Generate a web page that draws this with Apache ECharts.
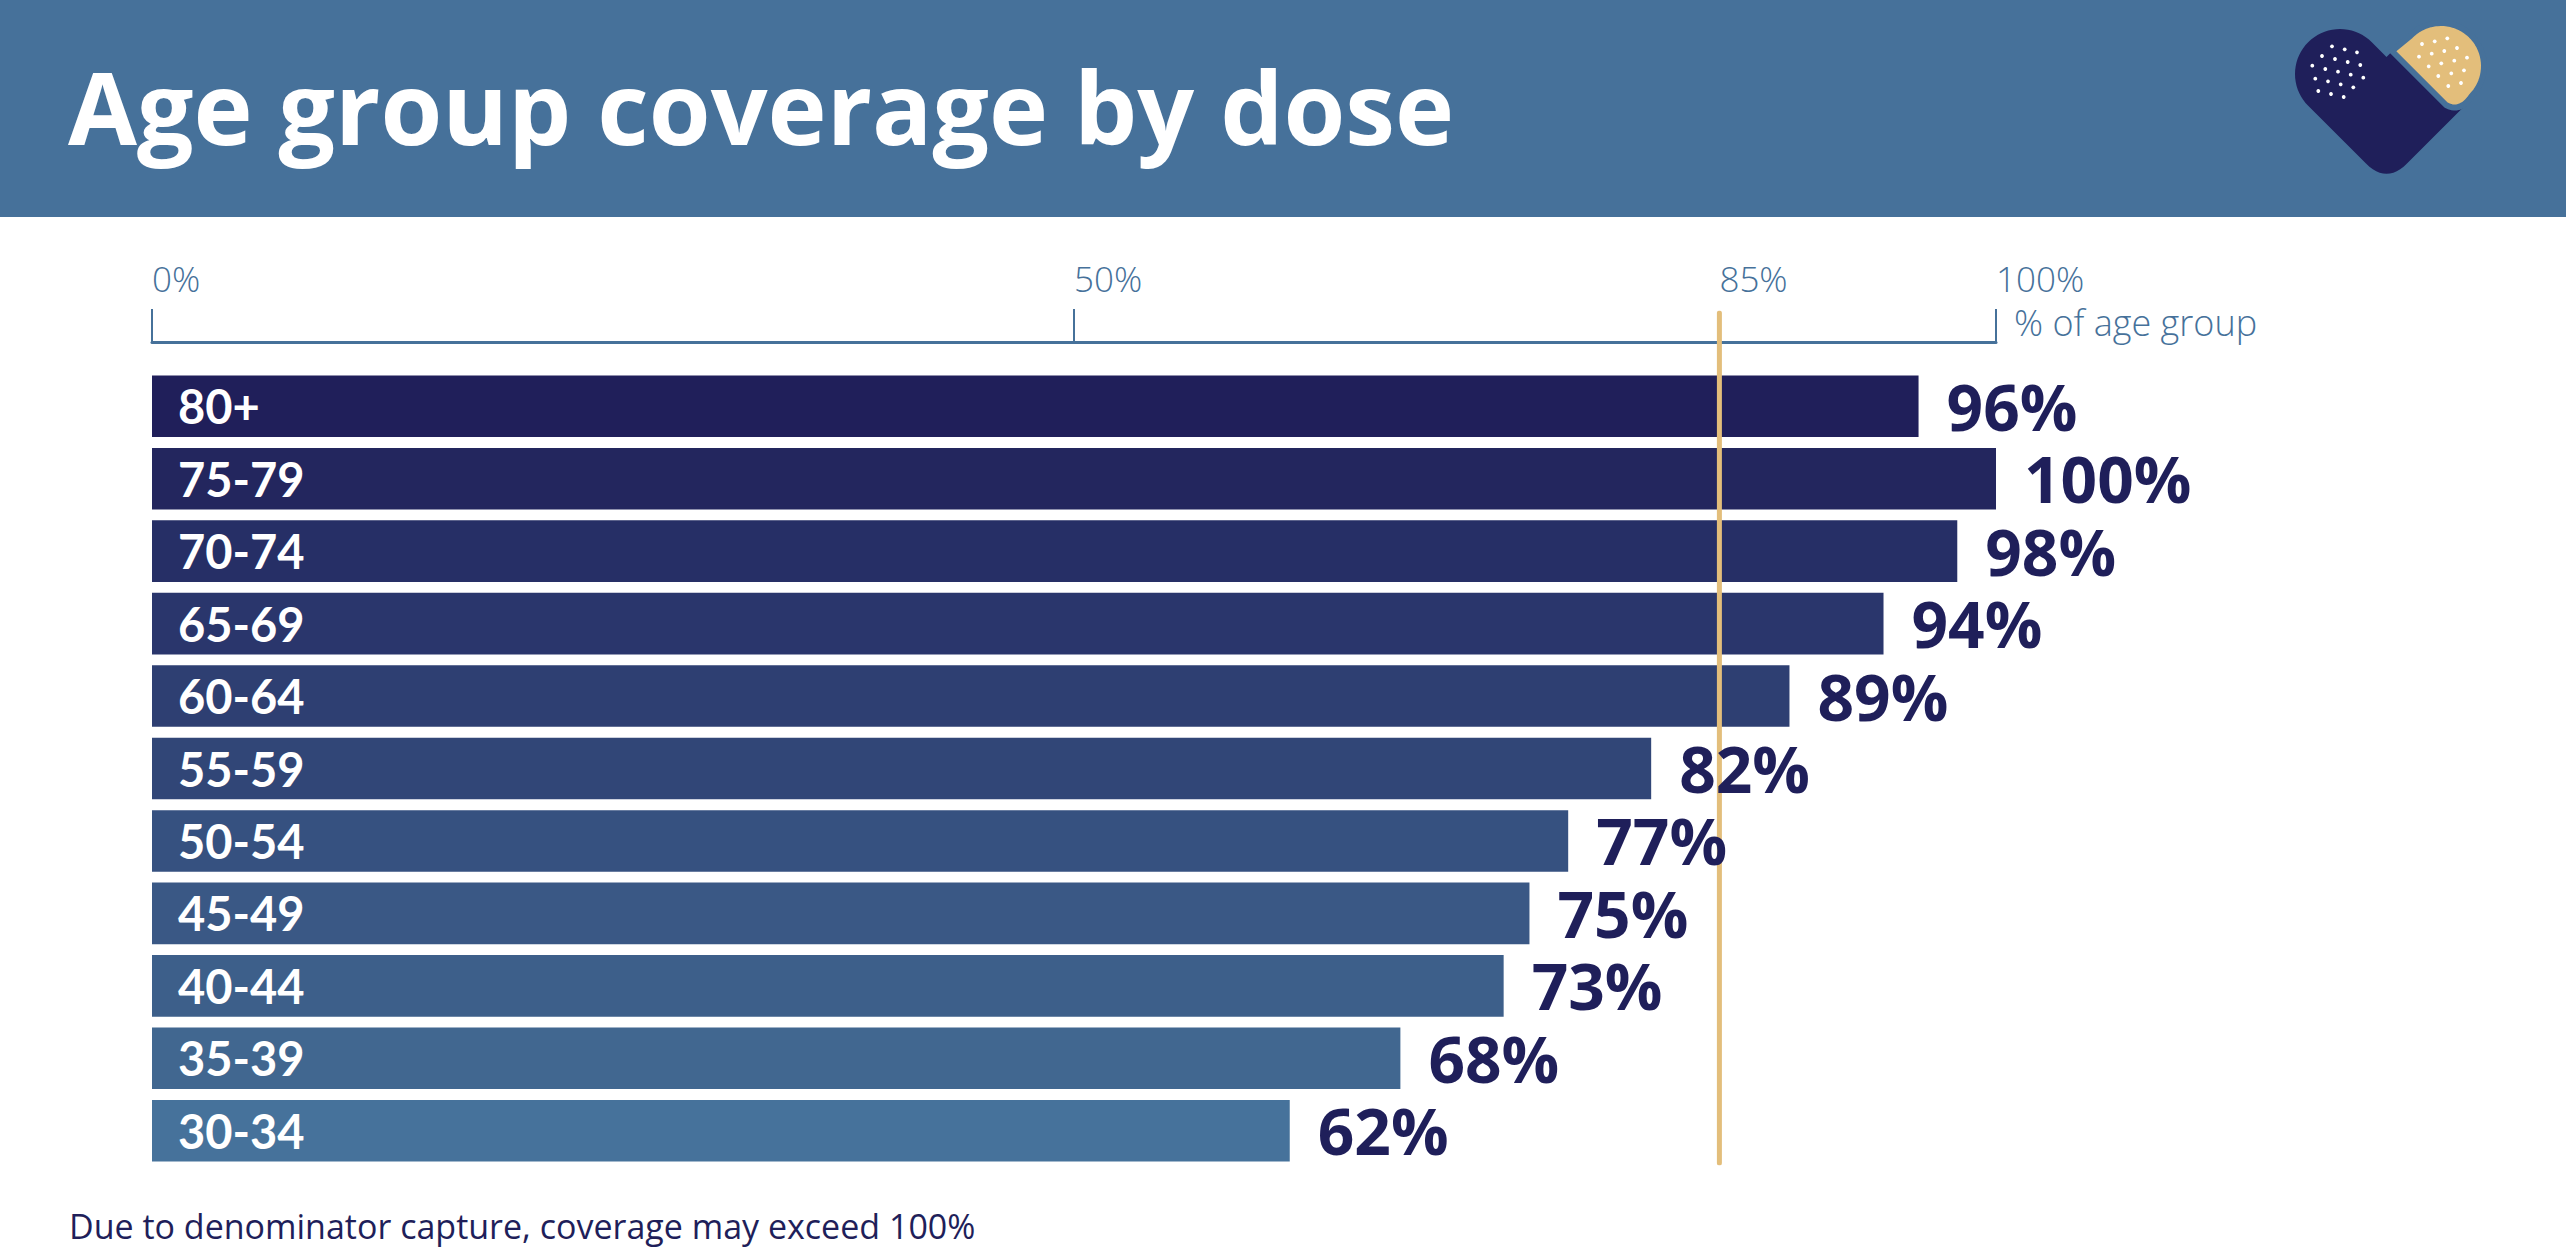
<!DOCTYPE html>
<html>
<head>
<meta charset="utf-8">
<script src="https://cdn.jsdelivr.net/npm/echarts@6/dist/echarts.min.js"></script>
<style>
  html, body { margin: 0; padding: 0; background: #ffffff; }
  #chart { width: 2572px; height: 1248px; }
</style>
</head>
<body>
<div id="chart"></div>
<script>
// ---- data ----
const categories = ['80+', '75-79', '70-74', '65-69', '60-64', '55-59', '50-54', '45-49', '40-44', '35-39', '30-34'];
const coverage = [95.8, 100, 97.9, 93.9, 88.8, 81.3, 76.8, 74.7, 73.3, 67.7, 61.7];
const coverageLabels = ['96%', '100%', '98%', '94%', '89%', '82%', '77%', '75%', '73%', '68%', '62%'];
const tickValues = [0, 50, 100];
const tickLabelValues = [0, 50, 85, 100];
const targetValue = 85;

// ---- styles ----
const barColors = ['#201F5A', '#23265E', '#262F66', '#2A366C', '#2E3F72', '#314677', '#365180', '#3A5885', '#3D5F8A', '#416790', '#46729B'];
const headerBlue = '#46719A';
const navy = '#1F1F5A';
const gold = '#E3BE7B';
const LATO = 'Lato, "Noto Sans", sans-serif';
const OPEN = '"Open Sans", "Noto Sans", sans-serif';

// ---- logo (decoration) ----
function arcPts(cx, cy, r, a0, a1, steps) {
  const out = [];
  for (let i = 0; i <= steps; i++) {
    const a = (a0 + (a1 - a0) * i / steps) * Math.PI / 180;
    out.push([cx + r * Math.cos(a), cy + r * Math.sin(a)]);
  }
  return out;
}
function quadPts(p0, c, p1, steps) {
  const out = [];
  for (let i = 0; i <= steps; i++) {
    const t = i / steps, u = 1 - t;
    out.push([u * u * p0[0] + 2 * u * t * c[0] + t * t * p1[0], u * u * p0[1] + 2 * u * t * c[1] + t * t * p1[1]]);
  }
  return out;
}
const navyShape = [].concat(
  arcPts(2340, 74, 45, -45, -225, 36),
  quadPts([2366, 163.6], [2386.5, 184.1], [2407, 163.6], 12),
  arcPts(2441, 66, 45, 45, -135, 36),
  [[2386.5, 56.9]]
);
const goldShape = [].concat(
  [[2392, 51]],
  arcPts(2441, 66, 43, -135, 44, 40),
  quadPts([2471.9, 95.9], [2460, 113], [2446, 105], 10)
);
const navyDots = [[2332,46.3],[2344.7,49.3],[2357,52.3],[2322,56],[2335,59],[2347.7,62],[2360.3,65],[2312.3,65.7],[2325.3,69],[2338,71.7],[2350.7,74.7],[2363.3,77.7],[2315.3,78.7],[2328,81.3],[2340.7,84.3],[2353.3,87.3],[2318.3,91],[2331,94],[2343.7,97]];
const goldDots = [[2422,44],[2434.7,41.3],[2447.3,38.3],[2419,56.7],[2431.7,53.7],[2444.3,51],[2457,48],[2428.7,66.3],[2441.3,63.3],[2454.3,60.7],[2467,57.7],[2438.3,76],[2451.3,73.3],[2464,70.3],[2448.3,86],[2461,83]];

const logo = [
  { type: 'polygon', z: 10, shape: { points: navyShape }, style: { fill: navy } },
  { type: 'polygon', z: 11, shape: { points: goldShape }, style: { fill: gold, stroke: headerBlue, lineWidth: 6, lineJoin: 'round' } }
];
navyDots.concat(goldDots).forEach(function (p) {
  logo.push({ type: 'circle', z: 12, shape: { cx: p[0], cy: p[1], r: 1.9 }, style: { fill: '#ffffff' } });
});

const chart = echarts.init(document.getElementById('chart'), null, { renderer: 'svg' });

chart.setOption({
  backgroundColor: '#ffffff',
  animation: false,
  graphic: [
    { type: 'rect', z: 0, shape: { x: 0, y: 0, width: 2566, height: 217 }, style: { fill: headerBlue } },
    { type: 'text', z: 5, x: 68, y: 106, style: { text: 'Age group coverage by dose', fill: '#ffffff', font: 'bold 100px ' + OPEN, verticalAlign: 'middle', align: 'left' } },
    { type: 'text', z: 5, x: 69, y: 1226, style: { text: 'Due to denominator capture, coverage may exceed 100%', fill: navy, font: '34px ' + OPEN, verticalAlign: 'middle', align: 'left' } }
  ].concat(logo),
  grid: [
    { left: 152, right: 576, top: 370, bottom: 81, containLabel: false },
    { left: 152, right: 576, top: 313, bottom: 85, containLabel: false }
  ],
  xAxis: [
    {
      type: 'value', gridIndex: 0, position: 'top', offset: 28, min: 0, max: 100,
      splitLine: { show: false },
      axisLine: { show: true, lineStyle: { color: headerBlue, width: 3 } },
      axisTick: { show: true, customValues: tickValues, length: 33, lineStyle: { color: headerBlue, width: 2 } },
      axisLabel: {
        customValues: tickLabelValues, formatter: '{value}%', align: 'left', verticalAlign: 'bottom',
        margin: 44, color: headerBlue, fontSize: 35, fontWeight: 300, fontFamily: OPEN, lineHeight: 40
      },
      name: '% of age group', nameLocation: 'end', nameGap: 18,
      nameTextStyle: { color: headerBlue, fontSize: 36, fontWeight: 300, fontFamily: OPEN, align: 'left', verticalAlign: 'bottom', lineHeight: 40 }
    },
    { type: 'value', gridIndex: 1, min: 0, max: 100, show: false }
  ],
  yAxis: [
    {
      type: 'category', gridIndex: 0, data: categories, inverse: true, z: 10,
      axisLine: { show: false }, axisTick: { show: false }, splitLine: { show: false },
      axisLabel: { inside: true, margin: 26, color: '#ffffff', fontSize: 47, fontWeight: 'bold', fontFamily: LATO, align: 'left', lineHeight: 52 }
    },
    { type: 'value', gridIndex: 1, min: 0, max: 1, show: false }
  ],
  series: [
    {
      type: 'bar', xAxisIndex: 0, yAxisIndex: 0, data: coverage, z: 2,
      barCategoryGap: '15%',
      itemStyle: { color: function (p) { return barColors[p.dataIndex]; } },
      silent: true
    },
    {
      type: 'bar', xAxisIndex: 0, yAxisIndex: 0, data: coverage, z: 5,
      barCategoryGap: '15%', barGap: '-100%',
      itemStyle: { color: 'rgba(0,0,0,0)' },
      label: {
        show: true, position: 'right', distance: 28,
        formatter: function (p) { return coverageLabels[p.dataIndex]; },
        color: navy, fontSize: 64, fontWeight: 'bold', fontFamily: OPEN, lineHeight: 58
      },
      silent: true
    },
    {
      type: 'line', xAxisIndex: 1, yAxisIndex: 1, z: 3,
      data: [[targetValue, 0], [targetValue, 1]],
      symbol: 'none',
      lineStyle: { color: gold, width: 5, cap: 'round' },
      silent: true
    }
  ]
});
</script>
</body>
</html>
